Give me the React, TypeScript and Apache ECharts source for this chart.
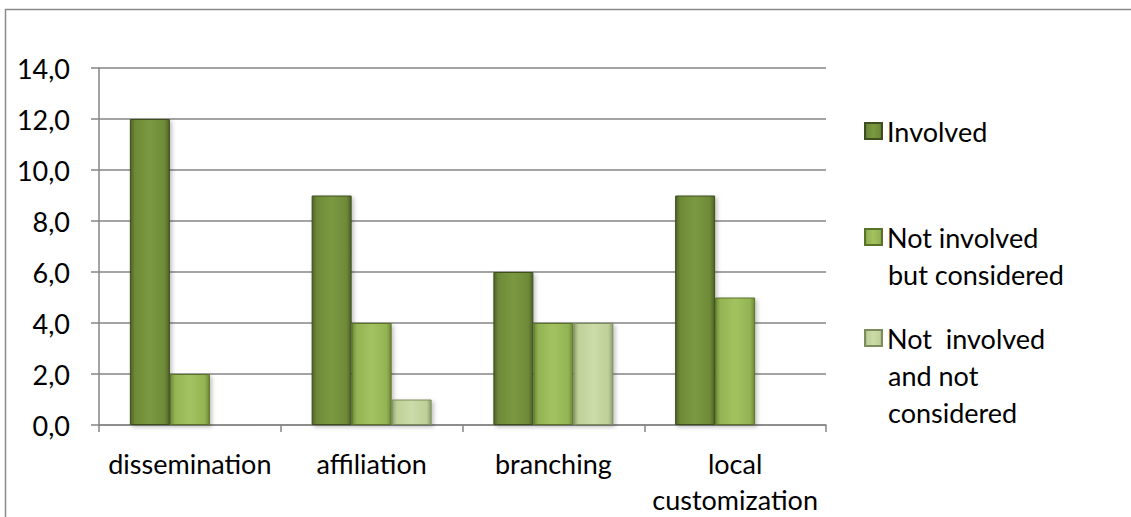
import React, { useEffect, useRef } from "react";
import * as echarts from "echarts";

const categories = ["dissemination", "affiliation", "branching", "local\ncustomization"];
const seriesNames = ["Involved", "Not involved but considered", "Not  involved and not considered"];
const legendLines = [["Involved"], ["Not involved", "but considered"], ["Not  involved", "and not", "considered"]];
const involved = [12, 9, 6, 9];
const notInvolvedConsidered = [2, 4, 4, 5];
const notInvolvedNotConsidered = [0, 1, 4, 0];
const yTicks = [0, 2, 4, 6, 8, 10, 12, 14];

const FONT = "Lato, 'Open Sans', sans-serif";
const FS = 27;

function grad(edge: string, mid: string, light: string) {
  return new echarts.graphic.LinearGradient(0, 0, 1, 0, [
    { offset: 0, color: edge },
    { offset: 0.12, color: mid },
    { offset: 0.5, color: light },
    { offset: 0.88, color: mid },
    { offset: 1, color: edge },
  ]);
}

export default function App() {
  const ref = useRef<HTMLDivElement>(null);
  useEffect(() => {
    document.body.style.margin = "0";
    const chart = echarts.init(ref.current!, undefined, { renderer: "svg" });
    const colors = [
      { fill: grad("#4F6228", "#6E8A38", "#7A9940"), border: "#3E4E1E", legend: "#6E8A38" },
      { fill: grad("#6F8A36", "#93B454", "#A3C25F"), border: "#5A7228", legend: "#93B454" },
      { fill: grad("#8FA070", "#BFD098", "#CCDBA8"), border: "#7C8C5C", legend: "#BCCB98" },
    ];
    const data = [involved, notInvolvedConsidered, notInvolvedNotConsidered];
    const legendCenters = [131, 237, 338];
    const lineH = 37;
    const graphics: any[] = [
      {
        type: "rect",
        shape: { x: 5.5, y: 9.5, width: 1140, height: 530 },
        style: { fill: "none", stroke: "#8A8A8A", lineWidth: 1.5 },
        silent: true,
      },
    ];
    legendLines.forEach((lines, i) => {
      lines.slice(1).forEach((ln, j) => {
        graphics.push({
          type: "text",
          x: 888,
          y: legendCenters[i] + (j + 1) * lineH,
          style: {
            text: ln,
            font: `${FS}px ${FONT}`,
            fill: "#000",
            verticalAlign: "middle",
            align: "left",
          },
          silent: true,
        });
      });
    });
    chart.setOption({
      animation: false,
      grid: { left: 99, right: 305, top: 68, bottom: 89 },
      legend: seriesNames.map((name, i) => ({
        data: [name],
        left: 864,
        top: legendCenters[i] - 16,
        padding: 0,
        itemWidth: 17,
        itemHeight: 16,
        itemGap: 7,
        icon: "rect",
        formatter: () => legendLines[i][0],
        textStyle: { fontFamily: FONT, fontSize: FS, color: "#000", lineHeight: 32, padding: [0, 0, 0, 0] },
        selectedMode: false,
      })),
      xAxis: {
        type: "category",
        data: categories,
        axisLine: { lineStyle: { color: "#868686", width: 1.5 } },
        axisTick: { show: true, length: 7, lineStyle: { color: "#868686", width: 1.5 } },
        axisLabel: {
          fontFamily: FONT,
          fontSize: FS,
          color: "#000",
          lineHeight: 36,
          margin: 20,
          interval: 0,
        },
      },
      yAxis: {
        type: "value",
        min: 0,
        max: 14,
        interval: 2,
        axisLine: { show: true, lineStyle: { color: "#868686", width: 1.5 } },
        axisTick: { show: true, length: 8, lineStyle: { color: "#868686", width: 1.5 } },
        splitLine: { lineStyle: { color: "#868686", width: 1.5 } },
        axisLabel: {
          fontFamily: FONT,
          fontSize: FS,
          color: "#000",
          margin: 29,
          formatter: (v: number) => (yTicks.includes(v) ? v.toFixed(1).replace(".", ",") : ""),
        },
      },
      series: seriesNames.map((name, i) => ({
        name,
        type: "bar",
        data: data[i],
        barWidth: 40,
        barGap: "0%",
        color: colors[i].legend,
        itemStyle: {
          color: colors[i].fill,
          borderColor: colors[i].border,
          borderWidth: 1,
          shadowBlur: 4,
          shadowColor: "rgba(0,0,0,0.25)",
          shadowOffsetX: 2,
          shadowOffsetY: 2,
        },
      })),
      graphic: graphics,
    });
    return () => chart.dispose();
  }, []);
  return <div ref={ref} style={{ width: 1131, height: 517 }} />;
}
